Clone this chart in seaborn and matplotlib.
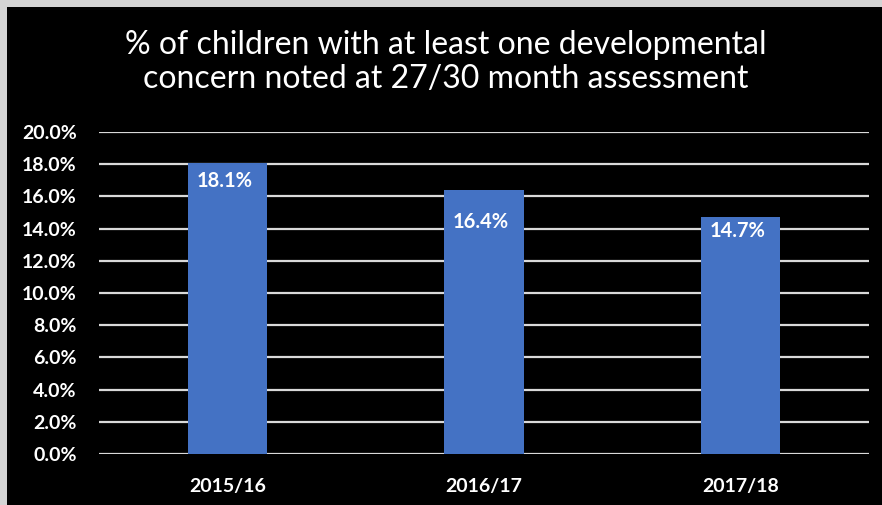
import matplotlib
matplotlib.use("Agg")
import matplotlib.pyplot as plt
import matplotlib.patches as mpatches
from matplotlib.ticker import PercentFormatter
import seaborn as sns
import pandas as pd

categories = ["2015/16", "2016/17", "2017/18"]
values = [18.1, 16.4, 14.7]
value_labels = ["18.1%", "16.4%", "14.7%"]
label_offsets_pt = [-13, -23, -10]
yticks = [0, 2, 4, 6, 8, 10, 12, 14, 16, 18, 20]

title = "% of children with at least one developmental\nconcern noted at 27/30 month assessment"

sns.set_theme(style="dark")
plt.rcParams["font.family"] = ["Lato", "DejaVu Sans"]

df = pd.DataFrame({"year": categories, "pct": values})

fig = plt.figure(figsize=(8.82, 5.05), dpi=100)
fig.patch.set_facecolor("#d4d4d4")
fig.patches.append(mpatches.Rectangle((7 / 882, -0.1), 2, 1.1 - 7 / 505, transform=fig.transFigure,
                                      facecolor="black", edgecolor="none", zorder=-5))

ax = fig.add_axes([99 / 882, 1 - 454 / 505, (869 - 99) / 882, (454 - 132) / 505])
ax.set_facecolor("black")

sns.barplot(data=df, x="year", y="pct", color="#4472C4", saturation=1, width=0.31, ax=ax,
            zorder=3, linewidth=0, edgecolor="none")

ax.set_ylim(0, 20)
ax.set_yticks(yticks)
ax.yaxis.set_major_formatter(PercentFormatter(decimals=1))
ax.grid(axis="y", color="#d9d9d9", linewidth=1.6, zorder=1)
ax.grid(axis="x", visible=False)
for s in ax.spines.values():
    s.set_visible(False)
ax.set_xlabel("")
ax.set_ylabel("")
ax.tick_params(axis="y", colors="white", labelsize=14, length=0, pad=16)
ax.tick_params(axis="x", colors="white", labelsize=14, length=0, pad=17)
for t in ax.get_xticklabels() + ax.get_yticklabels():
    t.set_fontweight("bold")

for i, (v, lab, off) in enumerate(zip(values, value_labels, label_offsets_pt)):
    ax.annotate(lab, xy=(i, v), xytext=(-2, off), textcoords="offset points",
                ha="center", va="center", color="white", fontsize=14.5, fontweight="bold", zorder=5)

fig.text(446 / 882, 1 - 62 / 505, title, ha="center", va="center", color="white",
         fontsize=23, linespacing=1.2)

fig.savefig("out.png", dpi=100, facecolor=fig.get_facecolor())
